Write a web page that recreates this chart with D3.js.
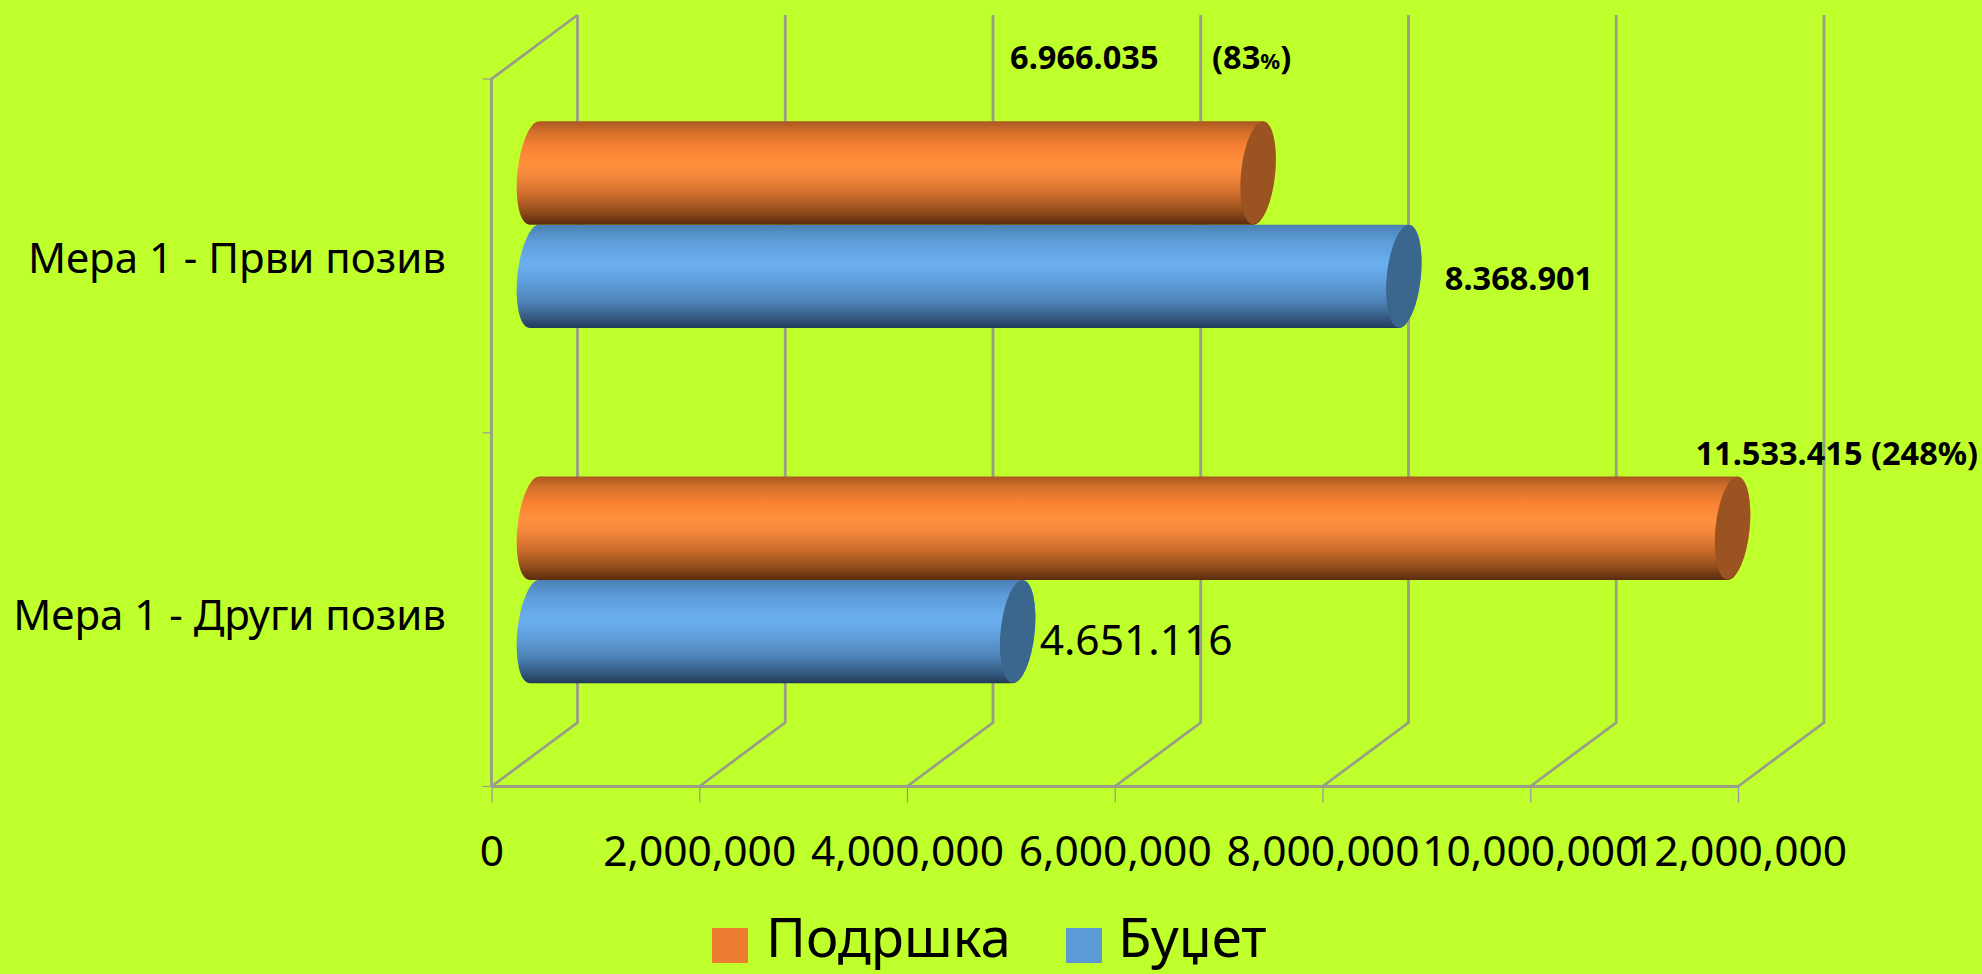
<!DOCTYPE html>
<html>
<head>
<meta charset="utf-8">
<script src="https://cdn.jsdelivr.net/npm/d3@7"></script>
<style>
  body { margin: 0; background: #bfff2b; }
  svg { display: block; }
  text { font-family: "Noto Sans", sans-serif; fill: #000; }
  .wall { fill: none; stroke: #999e88; stroke-width: 2.8; }
  .tick-mark { stroke: #9a9a9a; stroke-width: 1.2; }
  .bold { font-weight: 700; font-size: 32.5px; }
</style>
</head>
<body>
<svg id="vis" width="1982" height="974"></svg>
<script>
const categories = ["Мера 1 - Први позив", "Мера 1 - Други позив"];
const seriesNames = ["Подршка", "Буџет"];
const podrskaValues = [6966035, 11533415];
const budzetValues = [8368901, 4651116];
const xTicks = [0, 2000000, 4000000, 6000000, 8000000, 10000000, 12000000];
const barLabels = ["6.966.035", "11.533.415 (248%)", "8.368.901", "4.651.116"];

const svg = d3.select("svg#vis");
svg.append("rect").attr("width", 1982).attr("height", 974).attr("fill", "#bfff2b");

// front plane of the fake 3d box, back wall is shifted by depth
const front = { left: 491.5, right: 1738, top: 79, bottom: 786.5 };
const depth = { x: 86, y: -64 };

const x = d3.scaleLinear().domain([0, 12000000]).range([front.left, front.right]);
const y = d3.scaleBand().domain(categories).range([front.top, front.bottom]);

// bars sit half way into the box
const y0 = d3.scaleBand().domain(categories).range([front.top + depth.y / 2, front.bottom + depth.y / 2 + 3]);
const y1 = d3.scaleBand().domain(seriesNames).range([0, y0.bandwidth()]).paddingInner(0).paddingOuter(0.72);
const barX = v => x(v) + depth.x / 2;

// gradients for the cylinder body
const defs = svg.append("defs");
function addGradient(id, stops) {
  const grad = defs.append("linearGradient").attr("id", id)
    .attr("x1", 0).attr("y1", 0).attr("x2", 0).attr("y2", 1);
  stops.forEach(s => grad.append("stop").attr("offset", s[0]).attr("stop-color", s[1]));
}
addGradient("grad-orange", [[0, "#ab581f"], [0.1, "#d26f2c"], [0.25, "#f98132"], [0.42, "#ff913e"], [0.55, "#f1853a"],
  [0.72, "#c96b2c"], [0.88, "#8f4a1b"], [1, "#5b2c0f"]]);
addGradient("grad-blue", [[0, "#4a7fb2"], [0.15, "#5c9bd8"], [0.38, "#6bb0f1"], [0.55, "#609fdc"], [0.75, "#4d83b6"],
  [0.9, "#345a80"], [1, "#213c59"]]);

// the source is an upscaled screenshot, edges are a bit soft
defs.append("filter").attr("id", "soft")
  .append("feGaussianBlur").attr("stdDeviation", 0.7);

// walls and gridlines
const g = {
  walls: svg.append("g"),
  axis: svg.append("g"),
  bars: svg.append("g").attr("filter", "url(#soft)"),
  labels: svg.append("g")
};

g.walls.selectAll("path.grid")
  .data(xTicks)
  .enter()
  .append("path")
  .attr("class", "wall grid")
  .attr("d", d => "M" + x(d) + "," + front.bottom
    + "L" + (x(d) + depth.x) + "," + (front.bottom + depth.y)
    + "L" + (x(d) + depth.x) + "," + (front.top + depth.y));

g.walls.append("path")
  .attr("class", "wall")
  .attr("d", "M" + x(0) + "," + front.bottom + "V" + front.top
    + "L" + (x(0) + depth.x) + "," + (front.top + depth.y));

g.walls.append("path")
  .attr("class", "wall")
  .attr("d", "M" + x(0) + "," + front.bottom + "H" + x(12000000));

// category ticks on the left
const catEdges = [front.top, front.top + y.step(), front.bottom];
g.walls.selectAll("line.cat")
  .data(catEdges)
  .enter()
  .append("line")
  .attr("class", "tick-mark")
  .attr("x1", x(0) - 9).attr("x2", x(0))
  .attr("y1", d => d).attr("y2", d => d);

// value axis
const axis = d3.axisBottom(x).tickValues(xTicks).tickFormat(d3.format(",")).tickSize(16);
g.axis.attr("transform", "translate(0," + front.bottom + ")").call(axis);
g.axis.select(".domain").remove();
g.axis.selectAll(".tick line").attr("stroke", "#9a90a8").attr("stroke-width", 1.2);
g.axis.selectAll(".tick text")
  .attr("y", 79).attr("dy", 0)
  .style("font-family", "'Noto Sans', sans-serif")
  .style("font-size", "42.5px");

// cylinders
const capRx = 17, tilt = 6, lean = 5;

function barPath(d) {
  const top = d.y, bottom = d.y + d.h;
  const ry = d.h / 2;
  const arc = "A" + capRx + "," + ry + " " + tilt + " 0 1 ";
  return "M" + (d.x0 + lean) + "," + top
    + "L" + (d.x1 + lean) + "," + top
    + arc + (d.x1 - lean) + "," + bottom
    + "L" + (d.x0 - lean) + "," + bottom
    + arc + (d.x0 + lean) + "," + top + "Z";
}

const barData = [];
// blue goes first, orange overlaps its top edge
categories.forEach(function(c, i) {
  barData.push({ cat: c, series: seriesNames[1], value: budzetValues[i], grad: "grad-blue", cap: "#3b668d" });
  barData.push({ cat: c, series: seriesNames[0], value: podrskaValues[i], grad: "grad-orange", cap: "#9b5220" });
});
barData.forEach(function(d) {
  d.x0 = barX(0);
  d.x1 = barX(d.value);
  d.y = y0(d.cat) + y1(d.series);
  d.h = y1.bandwidth();
});

g.bars.selectAll("path.body")
  .data(barData)
  .enter()
  .append("path")
  .attr("class", "body")
  .attr("d", barPath)
  .attr("fill", d => "url(#" + d.grad + ")");

g.bars.selectAll("ellipse.cap")
  .data(barData)
  .enter()
  .append("ellipse")
  .attr("class", "cap")
  .attr("rx", capRx)
  .attr("ry", d => d.h / 2)
  .attr("transform", d => "translate(" + d.x1 + "," + (d.y + d.h / 2) + ") rotate(" + tilt + ")")
  .attr("fill", d => d.cap);

// category labels
g.labels.selectAll("text.cat")
  .data(categories)
  .enter()
  .append("text")
  .attr("class", "cat")
  .attr("text-anchor", "end")
  .attr("x", 446)
  .attr("y", (d, i) => y(d) + y.bandwidth() / 2 + (i === 0 ? 17 : 20))
  .style("font-size", "42px")
  .text(d => d);

// value labels, placed by hand around the bar ends like in the original
function addLabel(text, px, py, cls, size) {
  return g.labels.append("text")
    .attr("class", cls)
    .attr("x", px).attr("y", py)
    .style("font-size", size ? size + "px" : null)
    .text(text);
}

const yOf = (c, s) => y0(c) + y1(s);
addLabel(barLabels[0], barX(podrskaValues[0]) - 248, yOf(categories[0], seriesNames[0]) - 52, "bold");
const pct = addLabel("(83", barX(podrskaValues[0]) - 46, yOf(categories[0], seriesNames[0]) - 52, "bold");
pct.append("tspan").style("font-size", "22px").text("%");
pct.append("tspan").text(")");
addLabel(barLabels[1], barX(podrskaValues[1]) - 37, yOf(categories[1], seriesNames[0]) - 12, "bold");
addLabel(barLabels[2], barX(budzetValues[0]) + 41, yOf(categories[0], seriesNames[1]) + 65, "bold");
addLabel(barLabels[3], barX(budzetValues[1]) + 22, yOf(categories[1], seriesNames[1]) + 75, "", 42.5);

// legend
const legendItems = [
  { name: seriesNames[0], color: "#ed7d31", bx: 712, tx: 766 },
  { name: seriesNames[1], color: "#5b9bd5", bx: 1066, tx: 1118 }
];
const legend = svg.append("g");
legend.selectAll("rect")
  .data(legendItems)
  .enter()
  .append("rect")
  .attr("x", d => d.bx).attr("y", 928)
  .attr("width", 36).attr("height", 35)
  .attr("fill", d => d.color);
// baseline kept a little high so the descenders stay inside the page
legend.selectAll("text")
  .data(legendItems)
  .enter()
  .append("text")
  .attr("x", d => d.tx).attr("y", 957)
  .style("font-size", "54.5px")
  .text(d => d.name);
</script>
</body>
</html>
